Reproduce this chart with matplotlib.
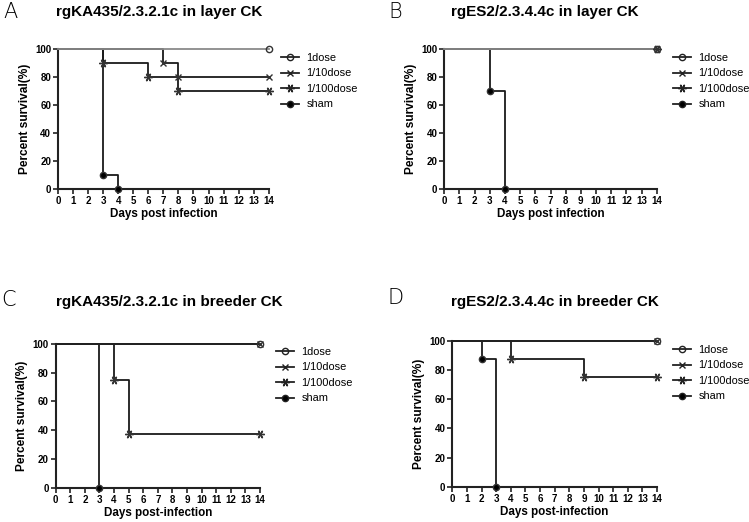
import numpy as np
import matplotlib
matplotlib.use('Agg')
import matplotlib.pyplot as plt

plt.rcParams['font.family'] = ['Liberation Sans', 'DejaVu Sans']

labels = ['1dose', '1/10dose', '1/100dose', 'sham']
markers = ['o', 'x', (6, 2, 90), 'o']

# datos de supervivencia (dias, % vivos) por panel y grupo
a_t = [[0, 14], [0, 7, 8, 14], [0, 3, 6, 8, 14], [0, 3, 4]]
a_s = [[100, 100], [100, 90, 80, 80], [100, 90, 80, 70, 70], [100, 10, 0]]

b_t = [[0, 14], [0, 14], [0, 14], [0, 3, 4]]
b_s = [[100, 100], [100, 100], [100, 100], [100, 70, 0]]

c_t = [[0, 14], [0, 14], [0, 4, 5, 14], [0, 3]]
c_s = [[100, 100], [100, 100], [100, 75, 37.5, 37.5], [100, 0]]

d_t = [[0, 14], [0, 14], [0, 4, 9, 14], [0, 2, 3]]
d_s = [[100, 100], [100, 100], [100, 87.5, 75, 75], [100, 87.5, 0]]

W, H = 749, 522
fig = plt.figure(figsize=(W/100, H/100), dpi=100)

def px(l, r, t, b):
    return [l/W, 1-b/H, (r-l)/W, (b-t)/H]

paneles = [
    dict(T=a_t, S=a_s, box=px(58, 268.7, 48.7, 189.3), top='#8a8a8a',
         titulo='rgKA435/2.3.2.1c in layer CK', tpos=(159, 12), letra='A', lpos=(10, 12),
         xlab='Days post infection', leg=(281, 53)),
    dict(T=b_t, S=b_s, box=px(444.3, 656.7, 48.7, 189.3), top='#8a8a8a',
         titulo='rgES2/2.3.4.4c in layer CK', tpos=(545, 12), letra='B', lpos=(395, 12),
         xlab='Days post infection', leg=(673, 53)),
    dict(T=c_t, S=c_s, box=px(55.7, 260, 343.7, 488), top='#222222',
         titulo='rgKA435/2.3.2.1c in breeder CK', tpos=(169, 302), letra='C', lpos=(9, 300),
         xlab='Days post-infection', leg=(276, 347)),
    dict(T=d_t, S=d_s, box=px(452.3, 657, 341, 486.7), top='#222222',
         titulo='rgES2/2.3.4.4c in breeder CK', tpos=(555, 302), letra='D', lpos=(396, 298),
         xlab='Days post-infection', leg=(673, 345)),
]

for p in paneles:
    ax = fig.add_axes(p['box'])
    colores = [p['top'], '#555555', '#333333', '#111111']
    handles = []
    # dibujar primero los grupos que caen, la linea de 1dose encima
    for i in [3, 2, 1, 0]:
        t = p['T'][i]
        s = p['S'][i]
        ax.step(t, s, where='post', color=colores[i] if i == 0 else '#1a1a1a', lw=1.3,
                clip_on=False, zorder=3 if i == 0 else 2)
        fc = 'none' if i == 0 else '#1a1a1a'
        if i == 3:
            fc = 'black'
        ms = 6 if i == 2 else 4.5
        ax.plot(t[1:], s[1:], ls='none', marker=markers[i], ms=ms, mfc=fc,
                mec='#333333', mew=1.0, clip_on=False, zorder=4)
    for i in range(4):
        fc = 'none' if i == 0 else 'black'
        h, = ax.plot([], [], color='#222222', lw=1.3, marker=markers[i],
                     ms=6 if i == 2 else 4.5, mfc=fc, mec='#222222', mew=1.0)
        handles.append(h)
    ax.set_xlim(0, 14)
    ax.set_ylim(0, 100)
    ax.set_xticks(np.arange(0, 15))
    ax.set_yticks([0, 20, 40, 60, 80, 100])
    for sp in ['top', 'right']:
        ax.spines[sp].set_visible(False)
    for sp in ['left', 'bottom']:
        ax.spines[sp].set_linewidth(1.5)
        ax.spines[sp].set_color('#222222')
    ax.tick_params(length=3.5, width=1.2, color='#222222', labelsize=7, pad=1.5)
    for tl in ax.get_xticklabels() + ax.get_yticklabels():
        tl.set_fontweight('bold')
    ax.set_xlabel(p['xlab'], fontsize=8.4, fontweight='bold', labelpad=1.5)
    ax.set_ylabel('Percent survival(%)', fontsize=8.6, fontweight='bold', labelpad=3)
    fig.text(p['tpos'][0]/W, 1-p['tpos'][1]/H, p['titulo'], fontsize=11, fontweight='bold',
             ha='center', va='center')
    fig.text(p['lpos'][0]/W, 1-p['lpos'][1]/H, p['letra'], fontsize=15,
             ha='center', va='center', family=['DejaVu Sans'], fontweight='light')
    fig.legend(handles, labels, loc='upper left',
               bbox_to_anchor=(p['leg'][0]/W, 1-p['leg'][1]/H), frameon=False,
               fontsize=7.9, borderpad=0, handlelength=1.6, handletextpad=0.7,
               labelspacing=0.5, borderaxespad=0)

fig.savefig('out.png', dpi=100)
